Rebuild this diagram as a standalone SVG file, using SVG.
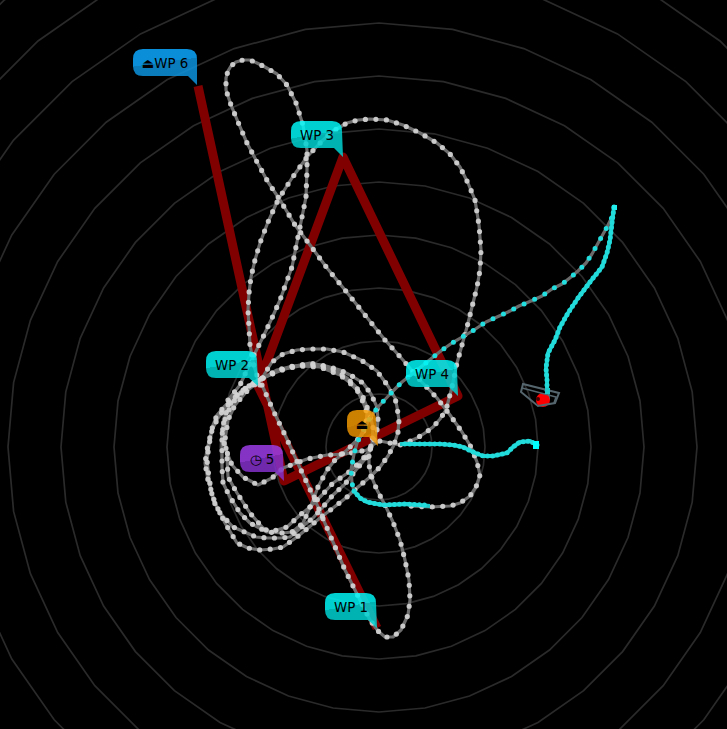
<svg xmlns="http://www.w3.org/2000/svg" xmlns:xlink="http://www.w3.org/1999/xlink" width="727" height="729" viewBox="0 0 727 729">
<style>
.ring{fill:none;stroke:#2a2a2a;stroke-width:1.7;vector-effect:non-scaling-stroke}
.line{fill:none;stroke:#6e6e6e;stroke-width:3.2;stroke-linejoin:round}
.dots{fill:none;stroke:#d2d2d2;stroke-opacity:.92;stroke-width:5.2;stroke-linecap:round;stroke-dasharray:0 10.5}
.cline{fill:none;stroke:#6a6a6a;stroke-width:3.2;stroke-linejoin:round}
.cdots{fill:none;stroke:#22dede;stroke-width:5;stroke-linecap:round;stroke-dasharray:0 11.5}
.cdense{fill:none;stroke:#1fc8c8;stroke-width:4;stroke-linejoin:round}
.cdense2{fill:none;stroke:#22dcdc;stroke-width:5;stroke-linecap:round;stroke-dasharray:0 5}
.mission{fill:none;stroke:#800000;stroke-width:9;stroke-linejoin:round}
.lbl{font-family:"DejaVu Sans",sans-serif;font-size:13.4px;fill:#000;text-anchor:middle}
.m{fill-opacity:.85}
</style>
<defs>
<polygon id="r" class="ring" points="53,0 52.2,9.2 49.8,18.1 45.9,26.5 40.6,34.1 34.1,40.6 26.5,45.9 18.1,49.8 9.2,52.2 0,53 -9.2,52.2 -18.1,49.8 -26.5,45.9 -34.1,40.6 -40.6,34.1 -45.9,26.5 -49.8,18.1 -52.2,9.2 -53,0 -52.2,-9.2 -49.8,-18.1 -45.9,-26.5 -40.6,-34.1 -34.1,-40.6 -26.5,-45.9 -18.1,-49.8 -9.2,-52.2 0,-53 9.2,-52.2 18.1,-49.8 26.5,-45.9 34.1,-40.6 40.6,-34.1 45.9,-26.5 49.8,-18.1 52.2,-9.2"/>
<linearGradient id="gc" x1="0" y1="0" x2=".25" y2="1"><stop offset=".46" stop-color="#00f4f4"/><stop offset=".46" stop-color="#00d2d2"/></linearGradient>
<linearGradient id="gb" x1="0" y1="0" x2=".25" y2="1"><stop offset=".46" stop-color="#0ca7fe"/><stop offset=".46" stop-color="#0c92dd"/></linearGradient>
<linearGradient id="gp" x1="0" y1="0" x2=".25" y2="1"><stop offset=".46" stop-color="#9b3ce6"/><stop offset=".46" stop-color="#8430ca"/></linearGradient>
<linearGradient id="go" x1="0" y1="0" x2=".25" y2="1"><stop offset=".46" stop-color="#ffa100"/><stop offset=".46" stop-color="#f49700"/></linearGradient>
<path id="t1" d="M262,378L272,362 283,354 297,350 310,349 327,349 343,352 361,360 377,371 388,386 395,398 397,407 399,420 398,432 394,445 388,456 380,467 370,477 358,487 347,497 333,508 320,518 308,528 297,537 283,547 273,549 260,550 248,548 237,543 225,523 215,503 208,480 205,463 207,450 210,437 213,425 217,415 224,407 233,398 243,390 253,383 262,378"/>
<path id="t2" d="M260,385L254,366 250,345 248,310 249,293 251,277 255,260 260,243 268,222 278,200 292,178 307,157 320,143 333,131 347,123 358,120 370,119 387,120 403,125 420,133 437,143 450,154 460,167 468,183 475,200 479,225 481,250 480,270 477,287 472,307 467,327 462,345 457,363 452,387 446,410 440,419 433,427 425,433 417,438 408,442 400,445 390,443 380,441 372,445 367,450 345,454 327,455 307,459 283,468 272,478 258,485 243,477 232,465 228,455 223,440 222,430 226,413 232,400 243,390 255,382"/>
<path id="t3" d="M262,385L273,410 285,435 300,468 315,500 330,535 345,570 360,600 370,620 378,631 385,637 393,637 401,630 408,615 410,600 409,580 405,560 400,540 393,522 385,505 377,490 372,478 369,465 369,450"/>
<path id="t4" d="M228,400L240,385 253,357 263,337 272,318 280,300 292,267 302,217 306,197 307,170 307,150 303,125 296,103 287,85 277,74 265,67 257,63 250,60 243,60 236,62 231,66 228,71 226,78 226,90 231,105 238,122 247,143 257,162 268,182 280,200 295,225 310,245 327,268 345,290 365,315 385,340 403,360 420,380 437,398 450,415 462,432 471,447 477,462 480,475 476,487 470,496 460,503 450,506 430,507 410,506"/>
<path id="t5" d="M263,378L277,370 293,366 306,365 320,365 335,370 347,378 356,387 363,397 369,412 373,427 372,445 366,458 356,470 345,484 333,495 322,508 313,518 303,526 290,537 280,538 267,538 256,537 247,533 233,527 220,513 213,500 209,478 207,460 209,445 212,430 218,418 225,408 240,392 263,378"/>
<path id="t6" d="M263,378L277,372 290,367 310,363 326,366 340,370 352,376 363,383 371,394 377,407 378,420 377,430 372,447 362,460 349,472 333,483 322,495 310,507 300,515 287,527 270,532 263,528 250,513 237,493 228,477 227,457 225,440 228,420 235,405 248,390 263,378"/>
<path id="t7" d="M263,378L280,370 300,366 320,367 340,375 349,382 357,390 363,402 367,413 366,425 362,435 347,450 335,460 327,470 318,487 312,503 303,523 292,532 283,533 267,532 250,523 240,513 230,497 223,483 222,467 222,450 222,433 226,415 236,398 250,385 263,378"/>
</defs>
<rect width="727" height="729" fill="#000"/>
<g id="rings">
<use xlink:href="#r" href="#r" transform="translate(379,447)"/>
<use xlink:href="#r" href="#r" transform="translate(379,447) scale(2)"/>
<use xlink:href="#r" href="#r" transform="translate(379,447) scale(3)"/>
<use xlink:href="#r" href="#r" transform="translate(379,447) scale(4)"/>
<use xlink:href="#r" href="#r" transform="translate(379,447) scale(5)"/>
<use xlink:href="#r" href="#r" transform="translate(379,447) scale(6)"/>
<use xlink:href="#r" href="#r" transform="translate(379,447) scale(7)"/>
<use xlink:href="#r" href="#r" transform="translate(379,447) scale(8)"/>
<use xlink:href="#r" href="#r" transform="translate(379,447) scale(9)"/>
<use xlink:href="#r" href="#r" transform="translate(379,447) scale(10)"/>
<use xlink:href="#r" href="#r" transform="translate(379,447) scale(11)"/>
<use xlink:href="#r" href="#r" transform="translate(379,447) scale(12)"/>
</g>
<g id="connectors">
<polyline class="mission" points="377,628 258,386 343,157 458,396 284,481 198,86"/>
<g class="line"><use xlink:href="#t1" href="#t1"/><use xlink:href="#t2" href="#t2"/><use xlink:href="#t3" href="#t3"/><use xlink:href="#t4" href="#t4"/><use xlink:href="#t5" href="#t5"/><use xlink:href="#t6" href="#t6"/><use xlink:href="#t7" href="#t7"/></g>
<g class="dots"><use xlink:href="#t1" href="#t1"/><use xlink:href="#t2" href="#t2"/><use xlink:href="#t3" href="#t3"/><use xlink:href="#t4" href="#t4"/><use xlink:href="#t5" href="#t5"/><use xlink:href="#t6" href="#t6"/><use xlink:href="#t7" href="#t7"/></g>
<path class="cline" d="M614,207L612,217 607,227 602,236 597,245 592,254 586,263 578,271 571,277 562,284 552,289 542,296 531,301 519,306 508,312 497,317 486,322 474,330 464,336 452,343 442,350 402,382 392,392 378,407 370,418 363,431 357,443 354,454 351,470 352,483 354,491"/>
<path class="cdots" d="M614,207L612,217 607,227 602,236 597,245 592,254 586,263 578,271 571,277 562,284 552,289 542,296 531,301 519,306 508,312 497,317 486,322 474,330 464,336 452,343 442,350 402,382 392,392 378,407 370,418 363,431 357,443 354,454 351,470 352,483 354,491"/>
<path class="cdense" d="M354,491L360,498 367,502 383,505 407,504 430,506"/>
<path class="cdense2" d="M354,491L360,498 367,502 383,505 407,504 425,505"/>
<path class="cdense" d="M548,400L547,392 547,380 546,368 548,353 555,340 560,327 568,313 578,298 590,282 602,267 607,253 610,240 612,223 614,207"/>
<path class="cdense2" d="M547,395L547,392 547,380 546,368 548,353 555,340 560,327 568,313 578,298 590,282 602,267 607,253 610,240 612,223 614,207"/>
<path class="cdense" d="M537,445L530,441 520,442 513,447 507,453 493,456 483,456 473,452 463,447 453,445 440,444 427,444 413,444 400,444"/>
<path class="cdense2" d="M537,445L530,441 520,442 513,447 507,453 493,456 483,456 473,452 463,447 453,445 440,444 427,444 413,444 400,444"/>
</g>
<g id="wp6"><path class="m" fill="url(#gb)" d="M143,49H187Q197,49 197,59L197,85 188,76H143Q133,76 133,66V59Q133,49 143,49Z"/><text class="lbl" x="165" y="68">⏏WP 6</text></g>
<g id="wp3"><path class="m" fill="url(#gc)" d="M301,121H332Q342,121 342,131L343,157 334,148H301Q291,148 291,138V131Q291,121 301,121Z"/><text class="lbl" x="317" y="140">WP 3</text></g>
<g id="wp2"><path class="m" fill="url(#gc)" d="M216,351H247Q257,351 257,361L258,386 249,378H216Q206,378 206,368V361Q206,351 216,351Z"/><text class="lbl" x="232" y="370">WP 2</text></g>
<g id="wp4"><path class="m" fill="url(#gc)" d="M416,360H447Q457,360 457,370L458,396 449,387H416Q406,387 406,377V370Q406,360 416,360Z"/><text class="lbl" x="432" y="379">WP 4</text></g>
<g id="wp1"><path class="m" fill="url(#gc)" d="M335,593H366Q376,593 376,603L377,628 368,620H335Q325,620 325,610V603Q325,593 335,593Z"/><text class="lbl" x="351" y="612">WP 1</text></g>
<g id="timer"><path class="m" fill="url(#gp)" d="M250,445H273Q283,445 283,455L284,481 275,472H250Q240,472 240,462V455Q240,445 250,445Z"/><text class="lbl" x="262" y="464">◷ 5</text></g>
<g id="home"><path fill-opacity=".8" fill="url(#go)" d="M357,410H366Q376,410 376,420L378,446 369,437H357Q347,437 347,427V420Q347,410 357,410Z"/><text class="lbl" x="362" y="429">⏏</text></g>
<g id="drone">
<circle cx="543" cy="400" r="7" fill="#f00"/>
<circle cx="538" cy="399" r="2" fill="#400"/>
<polygon points="523,384 521,392 538,406 555,403 559,393" fill="none" stroke="#56666e" stroke-width="2"/>
<polyline points="522,388 556,397 554,403" fill="none" stroke="#56666e" stroke-width="1.5"/>
<rect x="545" y="388" width="5" height="6" fill="#1fc8c8"/>
</g>
<rect id="head" x="533" y="441" width="6" height="8" fill="#0ff"/>
<rect id="tip" x="612" y="205" width="5" height="5" fill="#2ee"/>
</svg>
